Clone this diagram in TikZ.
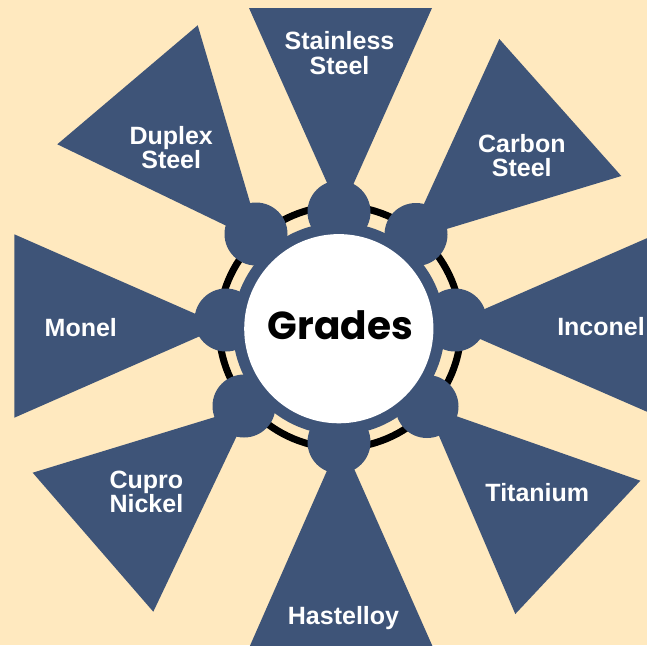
\documentclass[tikz,border=0pt]{standalone}
\usepackage{fontspec}
\setmainfont{Liberation Sans}
\newfontfamily\gradesfont{Poppins}
\definecolor{cream}{HTML}{FFE9BF}
\definecolor{navy}{HTML}{3E5478}
\begin{document}
\begin{tikzpicture}[x=1pt,y=-1pt,
  tri/.style={fill=navy},
  dot/.style={circle, fill=navy, minimum size=63pt, inner sep=0pt},
  lab/.style={text=white, font=\bfseries\fontsize{25}{24.5}\selectfont, align=center, inner sep=0pt}]
\useasboundingbox (0,0) rectangle (647,645);
\clip (0,0) rectangle (647,645);
\fill[cream] (0,0) rectangle (647,645);
% triangles
\fill[tri] (340.5,213) -- (249,8) -- (432,8) -- cycle;
\fill[tri] (262,243) -- (197.7,25.3) -- (57.3,144.3) -- cycle;
\fill[tri] (407,241) -- (499.3,39) -- (621.3,176) -- cycle;
\fill[tri] (448,325) -- (660,232.5) -- (660,417.4) -- cycle;
\fill[tri] (223,326) -- (14.3,234.3) -- (14.3,417.7) -- cycle;
\fill[tri] (251,406) -- (32.7,472.7) -- (153.3,611.7) -- cycle;
\fill[tri] (426,405.5) -- (640.3,480.7) -- (515.3,614) -- cycle;
\fill[tri] (340.9,439) -- (243.7,660) -- (438.6,660) -- cycle;
% ring
\draw[black, line width=7pt] (340,327) circle [radius=121pt];
% band
\node[circle, fill=navy, minimum size=212pt, inner sep=0pt] (band) at (338.8,328.7) {};
% small circles
\node[dot] (ct)  at (339,212) {};
\node[dot] (ctr) at (416,234.5) {};
\node[dot] (cr)  at (455,320) {};
\node[dot] (cbr) at (427,406.5) {};
\node[dot] (cb)  at (339,442) {};
\node[dot] (cbl) at (244,406) {};
\node[dot] (cl)  at (226,320) {};
\node[dot] (ctl) at (256,234) {};
% hub
\node[circle, fill=white, minimum size=189.2pt, inner sep=0pt] (hub) at (338.8,328.7) {};
\node[anchor=base, inner sep=0pt, font=\gradesfont\bfseries\fontsize{39}{39}\selectfont] (gr) at (340.3,339) {Grades};
% labels
\node[lab] (l1) at (339.5,53.3) {Stainless\\Steel};
\node[lab] (l2) at (171.2,147.5) {Duplex\\Steel};
\node[lab] (l3) at (521.8,155.8) {Carbon\\Steel};
\node[lab, anchor=base] (l4) at (601,335) {Inconel};
\node[lab, anchor=base] (l5) at (80.8,336) {Monel};
\node[lab] (l6) at (146.4,492) {Cupro\\Nickel};
\node[lab, anchor=base] (l7) at (537.3,501.7) {Titanium};
\node[lab, anchor=base] (l8) at (343.5,624) {Hastelloy};
\end{tikzpicture}
\end{document}
